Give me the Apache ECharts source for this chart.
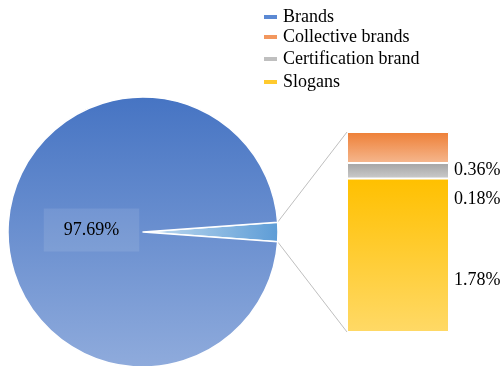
<!DOCTYPE html>
<html>
<head>
<meta charset="utf-8">
<script src="https://cdn.jsdelivr.net/npm/echarts@6/dist/echarts.min.js"></script>
<style>
  html, body { margin: 0; padding: 0; background: #fff; }
  #chart { width: 501px; height: 366px; }
</style>
</head>
<body>
<div id="chart"></div>
<script>
// Share of trademark types (%)
const pieLabels = ['Brands', 'Other marks'];
const brandsShare = 97.69;
const barNames = ['Collective brands', 'Certification brand', 'Slogans'];
const barValues = [0.36, 0.18, 1.78];
const legendNames = ['Brands', 'Collective brands', 'Certification brand', 'Slogans'];

const FONT = "'Liberation Serif', 'Times New Roman', serif";
const otherShare = barValues.reduce((a, b) => a + b, 0);
const total = brandsShare + otherShare;

// pie geometry
const cx = 143, cy = 232, R = 135;
// small slice centred on the 3 o'clock direction
const halfAngle = otherShare / total * 180;

function vGrad(top, bottom) {
  return new echarts.graphic.LinearGradient(0, 0, 0, 1, [
    { offset: 0, color: top }, { offset: 1, color: bottom }
  ]);
}

const barColors = [
  vGrad('#ee7f36', '#f5b78e'),
  vGrad('#a4a4a4', '#cbcbcb'),
  vGrad('#ffc000', '#ffd966')
];
const labelOffsets = [[0, 23], [0, 28], [0, 25]];
const legendColors = ['#5b89d3', '#f2975e', '#bfbfbf', '#ffca2e'];
const legendTops = [8, 28, 50, 73];

const chart = echarts.init(document.getElementById('chart'), null, { renderer: 'canvas' });

// stacked column: bottom = Slogans, then Certification, then Collective on top
const stackOrder = [2, 1, 0];
const barSeries = stackOrder.map(i => ({
  type: 'bar',
  name: barNames[i],
  stack: 'other',
  barWidth: '100%',
  data: [barValues[i]],
  itemStyle: { color: barColors[i], borderColor: '#fff', borderWidth: 1 },
  label: {
    show: true,
    position: 'right',
    distance: 5,
    offset: labelOffsets[i],
    formatter: barValues[i].toFixed(2) + '%',
    fontFamily: FONT,
    fontSize: 18,
    color: '#000'
  },
  emphasis: { disabled: true }
}));

const option = {
  animation: false,
  backgroundColor: '#fff',
  legend: legendNames.map((n, i) => ({
    left: 262,
    top: legendTops[i],
    padding: 0,
    icon: 'rect',
    itemWidth: 15,
    itemHeight: 6,
    itemGap: 0,
    selectedMode: false,
    textStyle: { fontFamily: FONT, fontSize: 18, color: '#000' },
    data: [{ name: n, itemStyle: { color: legendColors[i] } }]
  })),
  grid: { left: 347, top: 132, width: 102, height: 200 },
  xAxis: { type: 'category', data: ['other'], show: false },
  yAxis: { type: 'value', min: 0, max: otherShare, show: false },
  series: [
    {
      type: 'pie',
      center: [cx, cy],
      radius: [0, R],
      startAngle: halfAngle,
      clockwise: true,
      minAngle: 0,
      avoidLabelOverlap: false,
      emphasis: { disabled: true },
      itemStyle: { borderColor: '#fff', borderWidth: 1.5 },
      labelLine: { show: false },
      data: [
        {
          name: pieLabels[1],
          value: otherShare,
          itemStyle: {
            color: new echarts.graphic.LinearGradient(0, 0, 1, 0, [
              { offset: 0, color: '#c4ddf1' }, { offset: 1, color: '#5d9cd6' }
            ])
          },
          label: { show: false }
        },
        {
          name: pieLabels[0],
          value: brandsShare,
          itemStyle: { color: vGrad('#4674c3', '#8fabdc') },
          label: {
            show: true,
            position: 'inside',
            offset: [19, -2],
            formatter: brandsShare.toFixed(2) + '%',
            fontFamily: FONT,
            fontSize: 18,
            lineHeight: 18,
            color: '#000',
            backgroundColor: 'rgba(255,255,255,0.1)',
            padding: [7, 20, 18, 20]
          }
        }
      ]
    },
    ...barSeries
  ]
};

chart.setOption(option);

// connector lines from the small slice's rim to the column's corners
const rad = halfAngle * Math.PI / 180;
const pTop = [cx + R * Math.cos(rad), cy - R * Math.sin(rad)];
const pBot = [cx + R * Math.cos(rad), cy + R * Math.sin(rad)];
const barTop = chart.convertToPixel({ gridIndex: 0 }, ['other', otherShare]);
const barBot = chart.convertToPixel({ gridIndex: 0 }, ['other', 0]);
const barLeft = chart.getModel().getComponent('grid', 0).coordinateSystem.getRect().x;

chart.setOption({
  graphic: [
    { type: 'line', shape: { x1: pTop[0], y1: pTop[1], x2: barLeft, y2: barTop[1] },
      style: { stroke: '#bfbfbf', lineWidth: 1 }, silent: true },
    { type: 'line', shape: { x1: pBot[0], y1: pBot[1], x2: barLeft, y2: barBot[1] },
      style: { stroke: '#bfbfbf', lineWidth: 1 }, silent: true }
  ]
});
</script>
</body>
</html>
